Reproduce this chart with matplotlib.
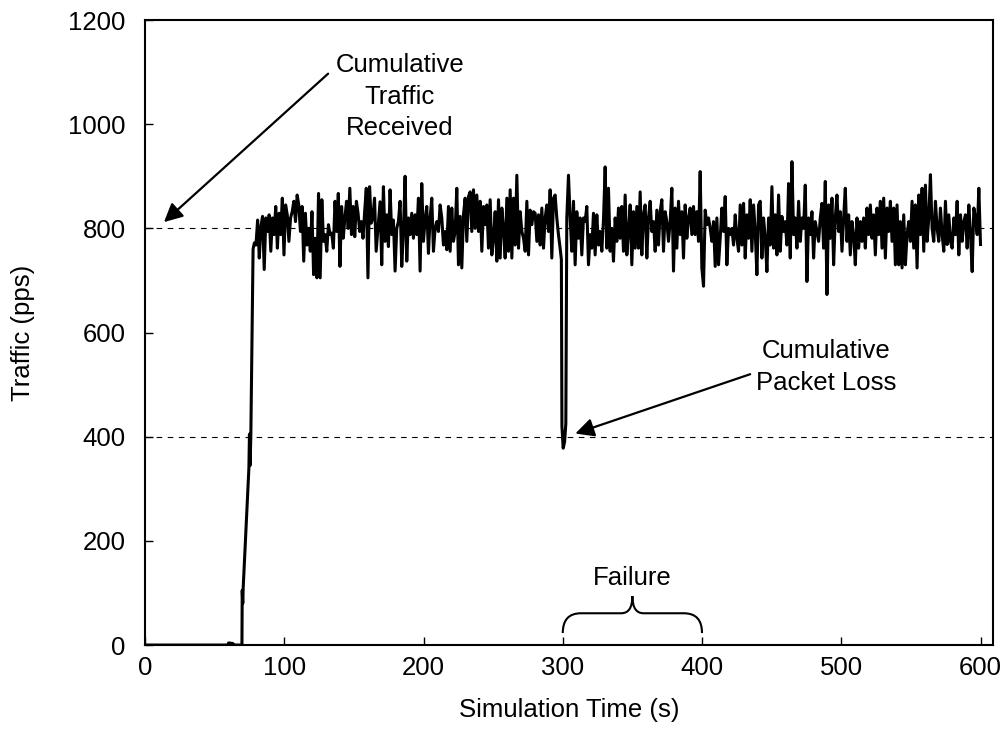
import numpy as np
import matplotlib
matplotlib.use("Agg")
import matplotlib.pyplot as plt
from matplotlib.path import Path
from matplotlib.patches import PathPatch

plt.rcParams['font.family'] = ['Liberation Sans', 'DejaVu Sans']
plt.rcParams['font.size'] = 18.5

# start-up: nothing, a small blip, then the ramp to ~800 pps
ramp_t = [0, 59.5, 60, 63, 63.5, 69.6, 69.8, 70.2, 70.5, 74.6, 75.0, 75.5, 76.0, 77.6]
ramp_v = [0, 0, 4, 3, 0, 0, 105, 80, 110, 340, 405, 345, 405, 760]

# steady traffic
block_a = [772, 768, 816, 743, 804, 823, 721, 820, 794, 826, 756, 820, 788, 842, 762, 829,
           788, 858, 749, 845, 826, 775, 820, 832, 852, 813, 864, 845, 794, 842, 737, 829,
           768, 800, 756, 832, 711, 781, 705, 867, 705, 855, 775, 788, 756, 807, 788, 791,
           762, 852, 794, 867, 727, 842, 781, 820, 852, 800, 877, 788, 842, 784, 852, 829,
           794, 813, 781, 832, 877, 705, 880, 810, 820, 858, 756]
block_b = [851, 730, 880, 775, 826, 765, 874, 788, 816, 718, 800, 813, 852, 727, 794, 900,
           737, 820, 788, 829, 781, 826, 788, 858, 718, 886, 775, 816, 842, 752, 820, 858,
           756, 800, 813, 794, 845, 820, 768, 794, 759, 842, 756, 839, 775, 794, 877, 730,
           823, 724, 826, 858, 775, 861, 870, 794, 874, 800, 864, 794, 852, 756, 842, 807,
           845, 762, 855, 749, 781, 832, 737, 855, 743, 839, 800, 743, 858, 756, 874, 743,
           858, 768, 902, 762, 832, 794, 781, 756, 852, 749, 835, 807, 832]
block_c1 = [829, 775, 826, 768, 839, 762, 820, 845, 794, 874, 743, 858, 864, 820, 788, 762]

# link failure at 300 s
dip_t = [299.0, 299.4, 300.3, 301.3, 302.2, 302.9]
dip_v = [740, 420, 378, 390, 425, 820]

block_c2 = [902, 820, 756, 852, 730, 832, 781, 820, 749, 820, 813, 842, 730, 788, 762, 829,
            749, 826, 768, 794, 756, 816, 918, 762, 877, 756, 800, 737, 820, 775, 839, 781,
            842, 756, 864, 749, 794, 845, 730, 832, 762, 842, 762, 870, 749, 826, 845, 743,
            820, 852, 794, 813, 756, 835, 768, 832, 855, 756, 832, 813, 775, 813, 877, 718,
            839, 762, 852, 788, 832, 743, 845, 781, 820]
block_d = [839, 788, 842, 788, 832, 775, 909, 724, 689, 835, 807, 820, 800, 775, 813, 727,
           820, 730, 781, 839, 794, 861, 730, 800, 788, 800, 768, 826, 781, 756, 845, 768,
           848, 743, 826, 781, 855, 756, 845, 794, 711, 845, 852, 743, 820, 781, 717, 820,
           768, 880, 762, 826, 749, 864, 756, 823, 794, 813, 768, 886, 743, 928, 788, 820,
           762, 852, 775, 820, 800, 883, 698, 820, 788, 832, 743, 813, 794, 775, 820, 848,
           762, 890, 673, 845, 781, 858, 730, 820, 864, 794, 832, 756, 820]
block_e = [877, 775, 826, 749, 813, 788, 730, 820, 762, 813, 775, 820, 762, 839, 788, 845,
           781, 826, 749, 839, 788, 852, 762, 858, 743, 839, 794, 852, 775, 839, 730, 845,
           730, 813, 724, 826, 730, 788, 813, 775, 852, 762, 845, 724, 864, 788, 877, 756,
           883, 775, 820, 903, 800, 775, 852, 800, 775, 839, 788, 756, 852, 769, 826, 775,
           762, 820, 788, 852, 749, 826, 775, 813, 826, 762, 845, 788, 717, 839, 820, 788,
           877, 769]

# (first time, last time) of each block
blocks = [((78.5, 166.0), block_a), ((168.8, 279.0), block_b), ((280.2, 298.1), block_c1),
          (None, None), ((304.1, 390.3), block_c2), ((391.5, 501.7), block_d),
          ((502.9, 600.0), block_e)]

ref_levels = [800, 400]
fail_start, fail_end = 300, 400

##################################################

t = list(ramp_t)
v = list(ramp_v)
for span, vals in blocks:
    if span is None:
        t += dip_t
        v += dip_v
        continue
    t += list(np.linspace(span[0], span[1], len(vals)))
    v += vals

fig = plt.figure(figsize=(10.05, 7.47), dpi=100)
ax = fig.add_axes([0.1443, 0.1365, 0.8438, 0.8367])

for lvl in ref_levels:
    ax.axhline(lvl, color='black', lw=0.8, linestyle=(0, (5, 5)), zorder=1)

ax.plot(t, v, color='black', lw=2.2, zorder=3)

ax.set_xlim(0, 609)
ax.set_ylim(0, 1200)
ax.set_xticks(range(0, 601, 100))
ax.set_yticks(range(0, 1201, 200))
ax.tick_params(direction='in', length=6, width=1)
ax.tick_params(axis='y', pad=14)
ax.tick_params(axis='x', pad=8)
for s in ax.spines.values():
    s.set_linewidth(1.5)

ax.set_xlabel("Simulation Time (s)", labelpad=13)
ax.set_ylabel("Traffic (pps)", labelpad=24)

arrow = dict(arrowstyle='-|>', mutation_scale=28, lw=1.6, color='black', shrinkA=0, shrinkB=0)
ax.annotate("", xy=(13.6, 812), xytext=(131.5, 1097), arrowprops=arrow)
ax.text(183, 1053, "Cumulative\nTraffic\nReceived", ha='center', va='center', linespacing=1.4)

ax.annotate("", xy=(309, 406), xytext=(434.6, 520), arrowprops=arrow)
ax.text(489, 534, "Cumulative\nPacket Loss", ha='center', va='center', linespacing=1.4)

# brace under the failure period
xm = (fail_start + fail_end) / 2
y0, y1, ytip, r, rm = 23, 61, 94, 13, 8
verts = [(fail_start, y0), (fail_start, y1), (fail_start + r, y1),
         (xm - rm, y1),
         (xm, y1), (xm, ytip),
         (xm, y1), (xm + rm, y1),
         (fail_end - r, y1),
         (fail_end, y1), (fail_end, y0)]
codes = [Path.MOVETO, Path.CURVE3, Path.CURVE3, Path.LINETO,
         Path.CURVE3, Path.CURVE3, Path.CURVE3, Path.CURVE3,
         Path.LINETO, Path.CURVE3, Path.CURVE3]
ax.add_patch(PathPatch(Path(verts, codes), fill=False, lw=1.5, color='black'))
ax.text(xm, 128, "Failure", ha='center', va='center')

fig.savefig("out.png", dpi=100)
